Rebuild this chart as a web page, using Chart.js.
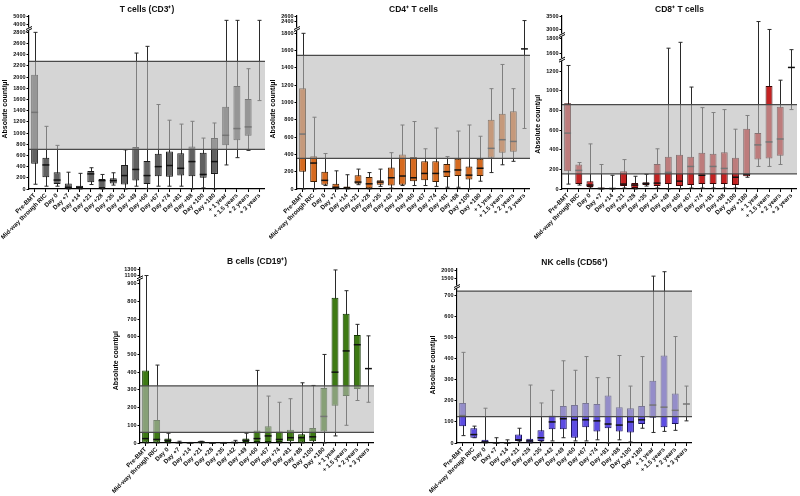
<!DOCTYPE html>
<html><head><meta charset="utf-8">
<script src="https://cdn.jsdelivr.net/npm/chart.js@4.4.0/dist/chart.umd.min.js"></script>
<style>
html,body{margin:0;padding:0;background:#fff;width:800px;height:496px;overflow:hidden;position:relative}
canvas{position:absolute}
</style></head><body>
<script>
const categories = ['Pre-BMT','Mid-way through RIC','Day 0','Day +7','Day +14','Day +21','Day +28','Day +35','Day +42','Day +49','Day +60','Day +67','Day +74','Day +81','Day +88','Day +100','Day +180','+ 1 year','+ 1.5 years','+ 2 years','+ 3 years'];

// T cells (CD3+)
const tLow  = [85, 50, 50, 0, 0, 80, 0, 70, 0, 50, 10, 50, 50, 50, 0, 20, 0, 430, 560, 690, 1580];
const tQ1   = [450, 210, 90, 10, 10, 120, 20, 100, 80, 150, 90, 230, 220, 240, 230, 200, 270, 780, 870, 950, null];
const tMed  = [1370, 430, 160, 30, 30, 270, 150, 150, 240, 350, 240, 400, 420, 370, 490, 260, 490, 960, 1080, 1110, null];
const tQ3   = [2040, 560, 300, 100, 60, 320, 180, 190, 430, 750, 500, 630, 670, 640, 760, 650, 910, 1470, 1840, 1610, null];
const tHigh = [2800, 1120, 780, 300, 280, 380, 260, 290, 700, 2430, 2550, 1510, 1230, 1160, 1210, 910, 1180, 4500, 4500, 2150, 4500];
const tBand = [710, 2280];
const tTicksLow = [0,200,400,600,800,1000,1200,1400,1600,1800,2000,2200,2400,2600,2800];
const tTicksHigh = [4000,5000];

// CD4+ T cells
const cLow  = [0, 0, 40, 0, 0, 50, 0, 30, 10, 40, 40, 40, 30, 20, 20, 0, 90, 190, 280, 320, 700];
const cQ1   = [200, 80, 50, 0, 0, 60, 10, 50, 40, 50, 90, 100, 80, 140, 150, 110, 150, 360, 420, 430, null];
const cMed  = [635, 300, 100, 20, 10, 80, 60, 80, 130, 150, 130, 180, 180, 200, 220, 160, 240, 470, 570, 550, 1620];
const cQ3   = [1165, 380, 200, 60, 30, 160, 140, 100, 250, 400, 370, 320, 320, 290, 350, 260, 350, 800, 870, 900, null];
const cHigh = [1800, 830, 410, 210, 165, 230, 190, 230, 420, 740, 780, 465, 705, 375, 670, 740, 610, 1160, 1440, 1160, 2450];
const cBand = [355, 1545];
const cTicksLow = [0,200,400,600,800,1000,1200,1400,1600,1800];
const cTicksHigh = [2400,2600];

// CD8+ T cells
const dLow  = [50, 40, 10, 0, 0, 10, 0, 30, 10, 0, 0, 10, 10, 10, 10, 10, 120, 230, 230, 250, 810];
const dQ1   = [180, 50, 20, 0, 0, 30, 10, 40, 30, 50, 30, 40, 50, 50, 50, 40, 130, 300, 310, 340, null];
const dMed  = [570, 190, 40, 5, 5, 50, 40, 55, 60, 170, 80, 230, 140, 230, 210, 120, 150, 450, 480, 510, 1240];
const dQ3   = [875, 250, 80, 15, 10, 180, 60, 70, 255, 330, 350, 330, 370, 360, 375, 320, 615, 570, 1050, 840, null];
const dHigh = [1260, 270, 460, 250, 140, 300, 130, 150, 410, 1670, 1750, 1040, 830, 780, 810, 610, 750, 3300, 3000, 1110, 1650];
const dBand = [155, 860];
const dTicksLow = [0,200,400,600,800,1000,1200];
const dTicksMid = [1600,1800];
const dTicksHigh = [3000,3500];

// B cells (CD19+)
const bLow  = [0, 0, 0, 0, 0, 0, 0, 0, 0, 0, 0, 0, 0, 0, 0, 0, 0, 40, 100, 240, 230];
const bQ1   = [0, 0, 5, 0, 0, 2, 0, 0, 0, 5, 5, 5, 5, 10, 0, 10, 65, 210, 265, 305, null];
const bMed  = [25, 20, 15, 2, 1, 5, 1, 1, 3, 15, 25, 40, 20, 30, 30, 35, 150, 400, 520, 555, 420];
const bQ3   = [410, 130, 25, 5, 2, 8, 2, 2, 5, 25, 70, 95, 65, 75, 50, 85, 310, 820, 730, 610, null];
const bHigh = [1100, 440, 55, 10, 3, 10, 2, 3, 15, 55, 410, 265, 230, 250, 340, 325, 500, 1300, 860, 670, 605];
const bBand = [60, 322];
const bTicksLow = [0,100,200,300,400,500,600,700,800,900];
const bTicksHigh = [1100,1300];

// NK cells (CD56+)
const nLow  = [35, 25, 0, 0, 0, 5, 0, 5, 10, 25, 10, 10, 15, 0, 15, 5, 70, 50, 55, 60, 105];
const nQ1   = [80, 25, 0, 0, 0, 10, 0, 10, 65, 65, 25, 75, 55, 70, 55, 50, 90, 120, 75, 90, null];
const nMed  = [130, 40, 5, 1, 1, 15, 10, 25, 100, 115, 110, 110, 105, 90, 85, 100, 110, 180, 170, 155, 185];
const nQ3   = [190, 70, 15, 3, 2, 40, 20, 60, 130, 175, 180, 190, 185, 225, 170, 165, 175, 295, 415, 235, null];
const nHigh = [430, 80, 165, 25, 15, 70, 275, 190, 250, 390, 345, 410, 310, 310, 415, 270, 410, 1640, 1900, 505, 270];
const nBand = [125, 720];
const nTicksLow = [0,100,200,300,400,500,600,700];
const nTicksHigh = [1500,2000];

const FONT = "'Liberation Sans', Arial, sans-serif";

const panels = [
  {title:'T cells (CD3⁺)', axisX:29, rightX:265, topY:16, zeroY:189,
   segs:[{min:0,max:2860,ticks:tTicksLow,w:160},{min:3500,max:5000,ticks:tTicksHigh,w:13}],
   low:tLow,q1:tQ1,med:tMed,q3:tQ3,high:tHigh,band:tBand, fill:'#616161', border:'#1a1a1a'},
  {title:'CD4⁺ T cells', axisX:297, rightX:530, topY:16, zeroY:189,
   segs:[{min:0,max:1850,ticks:cTicksLow,w:160},{min:2100,max:2640,ticks:cTicksHigh,w:13}],
   low:cLow,q1:cQ1,med:cMed,q3:cQ3,high:cHigh,band:cBand, fill:'#d66a1f', border:'#3d1f05'},
  {title:'CD8⁺ T cells', axisX:562, rightX:797, topY:16, zeroY:189,
   segs:[{min:0,max:1320,ticks:dTicksLow,w:129.4},{min:1514,max:1850,ticks:dTicksMid,w:24.6},{min:2790,max:3510,ticks:dTicksHigh,w:19}],
   low:dLow,q1:dQ1,med:dMed,q3:dQ3,high:dHigh,band:dBand, fill:'#c42222', border:'#3a0606'},
  {title:'B cells (CD19⁺)', axisX:140, rightX:374, topY:268, zeroY:443,
   segs:[{min:0,max:930,ticks:bTicksLow,w:164.7},{min:1000,max:1370,ticks:bTicksHigh,w:10.3}],
   low:bLow,q1:bQ1,med:bMed,q3:bQ3,high:bHigh,band:bBand, fill:'#3e7a14', border:'#123600'},
  {title:'NK cells (CD56⁺)', axisX:457, rightX:692, topY:269, zeroY:443,
   segs:[{min:0,max:740,ticks:nTicksLow,w:156},{min:1000,max:2060,ticks:nTicksHigh,w:18}],
   low:nLow,q1:nQ1,med:nMed,q3:nQ3,high:nHigh,band:nBand, fill:'#5d4de2', border:'#1a1260'}
];

function makePanel(p) {
  const YW = 28, XH = 62, TH = 16;
  const left = p.axisX - YW, top = p.topY - TH;
  const W = p.rightX - left, H = (p.zeroY - top) + XH;
  const cv = document.createElement('canvas');
  cv.width = W; cv.height = H;
  cv.style.left = left + 'px'; cv.style.top = top + 'px';
  cv.style.width = W + 'px'; cv.style.height = H + 'px';
  document.body.appendChild(cv);

  const segIds = p.segs.map((s, i) => 'y' + i);
  const scales = {
    x: {
      type: 'category', labels: categories, offset: true,
      afterFit: sc => { sc.height = XH; sc.paddingLeft = 0; sc.paddingRight = 0; },
      grid: { drawOnChartArea: false, drawTicks: true, tickLength: 3, color: '#000', lineWidth: 1, offset: false },
      border: { display: true, color: '#000', width: 1.2 },
      ticks: { autoSkip: false, maxRotation: 45, minRotation: 45, padding: 0, color: '#111',
               font: { family: FONT, size: 6.2, weight: 'bold' } }
    }
  };
  p.segs.forEach((s, i) => {
    scales['y' + i] = {
      type: 'linear', position: 'left', stack: 'ys', stackWeight: s.w,
      min: s.min, max: s.max, offset: false,
      afterBuildTicks: sc => { sc.ticks = s.ticks.map(v => ({ value: v })); },
      afterFit: sc => { sc.width = YW; sc.paddingTop = 0; sc.paddingBottom = 0; },
      grid: { drawOnChartArea: false, drawTicks: true, tickLength: 2.5, color: '#000', lineWidth: 1 },
      border: { display: true, color: '#000', width: 1.2 },
      ticks: { autoSkip: false, padding: 1, color: '#111', font: { family: FONT, size: 5.5, weight: 'bold' },
               callback: v => String(v) },
      title: i === 0 ? { display: true, text: 'Absolute count/μl', color: '#000', padding: { top: 0, bottom: 0 },
                         font: { family: FONT, size: 7, weight: 'bold' } } : { display: false }
    };
  });

  function yPix(chart, v) {
    const ss = segIds.map(id => chart.scales[id]);
    for (let i = 0; i < ss.length; i++) {
      const s = ss[i];
      if (v <= s.max || i === ss.length - 1) {
        if (v < s.min) return s.bottom;
        return s.getPixelForValue(Math.min(v, s.max));
      }
    }
  }

  const extras = {
    id: 'boxExtras',
    beforeDatasetsDraw(chart) {
      const ctx = chart.ctx, xs = chart.scales.x;
      ctx.save();
      ctx.strokeStyle = '#2a2a2a'; ctx.lineWidth = 1;
      for (let i = 0; i < categories.length; i++) {
        if (p.low[i] == null || p.high[i] == null) continue;
        const x = Math.round(xs.getPixelForValue(i)) + 0.5;
        const y1 = yPix(chart, p.low[i]), y2 = yPix(chart, p.high[i]);
        ctx.beginPath();
        ctx.moveTo(x, y1); ctx.lineTo(x, y2);
        ctx.moveTo(x - 2, y1); ctx.lineTo(x + 2, y1);
        ctx.moveTo(x - 2, y2); ctx.lineTo(x + 2, y2);
        ctx.stroke();
      }
      ctx.restore();
    },
    afterDatasetsDraw(chart) {
      const ctx = chart.ctx, xs = chart.scales.x, ca = chart.chartArea;
      const meta = chart.getDatasetMeta(0);
      ctx.save();
      ctx.strokeStyle = '#111'; ctx.lineWidth = 1.5;
      for (let i = 0; i < categories.length; i++) {
        if (p.med[i] == null) continue;
        const x = xs.getPixelForValue(i);
        const el = meta.data[i];
        const hw = (el && el.width) ? el.width / 2 : 3.5;
        const y = yPix(chart, p.med[i]);
        ctx.beginPath(); ctx.moveTo(x - hw, y); ctx.lineTo(x + hw, y); ctx.stroke();
      }
      // reference band
      const yLo = yPix(chart, p.band[0]), yHi = yPix(chart, p.band[1]);
      ctx.fillStyle = 'rgba(185,185,185,0.6)';
      ctx.fillRect(ca.left, yHi, ca.right - ca.left, yLo - yHi);
      ctx.strokeStyle = '#4a4a4a'; ctx.lineWidth = 1.3;
      ctx.beginPath();
      ctx.moveTo(ca.left, yLo); ctx.lineTo(ca.right, yLo);
      ctx.moveTo(ca.left, yHi); ctx.lineTo(ca.right, yHi);
      ctx.stroke();
      ctx.restore();
    },
    afterDraw(chart) {
      const ctx = chart.ctx, ca = chart.chartArea;
      ctx.save();
      for (let i = 1; i < segIds.length; i++) {
        const y = chart.scales[segIds[i]].bottom;
        const x = ca.left;
        ctx.fillStyle = '#fff';
        ctx.fillRect(x - 3, y - 1.5, 6, 3);
        ctx.strokeStyle = '#000'; ctx.lineWidth = 1;
        ctx.beginPath();
        ctx.moveTo(x - 3, y + 0.5); ctx.lineTo(x + 3, y - 2.5);
        ctx.moveTo(x - 3, y + 2.5); ctx.lineTo(x + 3, y - 0.5);
        ctx.stroke();
      }
      ctx.restore();
    }
  };

  new Chart(cv, {
    type: 'bar',
    data: {
      labels: categories,
      datasets: [{
        data: p.q1.map((v, i) => (v == null || p.q3[i] == null) ? null : [v, p.q3[i]]),
        xAxisID: 'x', yAxisID: 'y0',
        backgroundColor: p.fill, borderColor: p.border, borderWidth: 1,
        borderSkipped: false, barPercentage: 0.62, categoryPercentage: 1
      }]
    },
    options: {
      responsive: false, animation: false, devicePixelRatio: 1,
      layout: { padding: 0 },
      scales,
      plugins: {
        legend: { display: false }, tooltip: { enabled: false },
        title: { display: true, text: p.title, fullSize: false, color: '#111',
                 font: { family: FONT, size: 8.5, weight: 'bold' }, padding: { top: 4.5, bottom: 1.3 } }
      }
    },
    plugins: [extras]
  });
}

panels.forEach(makePanel);
</script>
</body></html>
